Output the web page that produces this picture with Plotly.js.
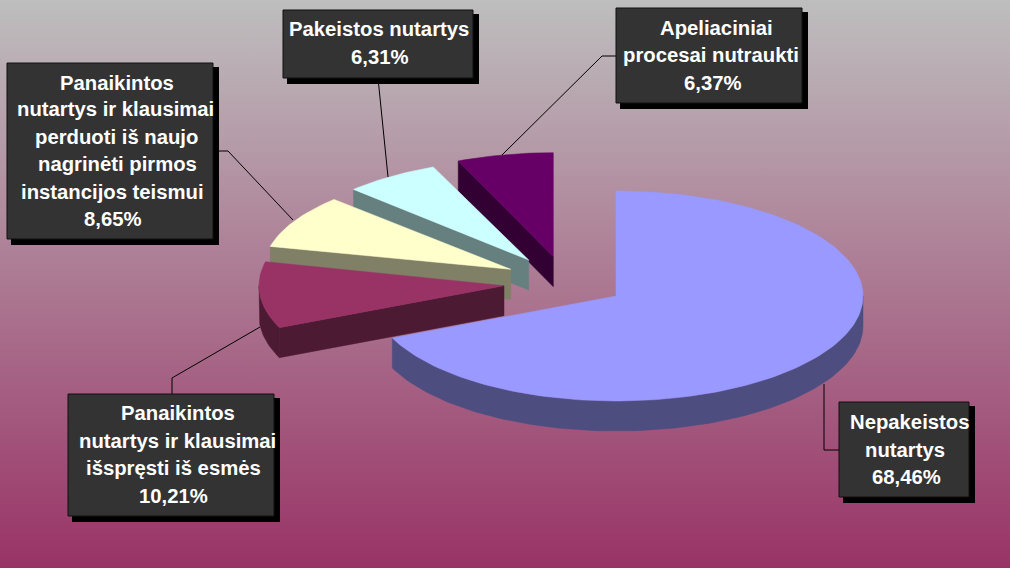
<!DOCTYPE html>
<html>
<head>
<meta charset="utf-8">
<script src="https://cdn.plot.ly/plotly-3.0.1.min.js"></script>
<style>
html,body{margin:0;padding:0;width:1010px;height:568px;overflow:hidden;background:linear-gradient(180deg,#BEBEBE 0%,#993366 100%);}
#chart{width:1010px;height:568px;}
</style>
</head>
<body>
<div id="chart"></div>
<script>
// ---- data ----
const categories = [
  "Nepakeistos nutartys",
  "Panaikintos nutartys ir klausimai išspręsti iš esmės",
  "Panaikintos nutartys ir klausimai perduoti iš naujo nagrinėti pirmos instancijos teismui",
  "Pakeistos nutartys",
  "Apeliaciniai procesai nutraukti"
];
const values = [68.46, 10.21, 8.65, 6.31, 6.37];
const topColors = ["#9999FF", "#993366", "#FFFFCC", "#CCFFFF", "#660066"];
const sideColors = ["#4D4D80", "#4D1A33", "#808066", "#668080", "#330033"];

// ---- fake-3D projection of each exploded slice ----
const apexX = [616, 504, 510.7, 528.7, 553.3];
const apexY = [296, 285.7, 269.3, 260, 256.7];
const radiusXRight = [247, 245, 247, 245, 244];
const radiusXLeft = [244, 245, 247, 245, 244];
const radiusY = [105, 105, 100, 101, 104];
const depth = 30;

const labelBoxes = [
  {slice:0, x0:839, x1:969, y0:402, y1:497,
   lines:[["Nepakeistos",909.7,422],["nutartys",905,450],["68,46%",906.7,477]],
   leader:[[839,450],[824,450],[824,384]]},
  {slice:1, x0:68, x1:274, y0:394, y1:516,
   lines:[["Panaikintos",177.8,413],["nutartys ir klausimai",177,441],["išspręsti iš esmės",173,468],["10,21%",173.5,496]],
   leader:[[172,394],[172,378],[260,327]]},
  {slice:2, x0:7, x1:213, y0:63, y1:239,
   lines:[["Panaikintos",117,82.7],["nutartys ir klausimai",115.5,109],["perduoti iš naujo",116,137],["nagrinėti pirmos",117,164],["instancijos teismui",112.5,192],["8,65%",113,218.5]],
   leader:[[213,151],[228,151],[293,220]]},
  {slice:3, x0:283, x1:473, y0:10, y1:78,
   lines:[["Pakeistos nutartys",379,29],["6,31%",380,57]],
   leader:[[378,78],[388,177]]},
  {slice:4, x0:616, x1:802, y0:8, y1:103,
   lines:[["Apeliaciniai",716,28],["procesai nutraukti",710.5,55],["6,37%",712.5,83]],
   leader:[[616,56],[602,56],[502,155]]}
];

// ---- build polygons from the values ----
const total = values.reduce((a,b)=>a+b,0);
const ends = [];
values.reduce((acc,v,i)=>{ends[i]=acc+v/total*360;return ends[i];},0);
const starts = ends.map((e,i)=>i?ends[i-1]:0);

function arcPoints(i,from,to){
  const n = Math.max(12, Math.round((to-from)/1.5));
  const px=[],py=[];
  for(let k=0;k<=n;k++){
    const deg=from+(to-from)*k/n;
    const t=deg*Math.PI/180;
    const s=Math.sin(t);
    px.push(apexX[i]+(s>=0?radiusXRight[i]:radiusXLeft[i])*s);
    py.push(apexY[i]-radiusY[i]*Math.cos(t));
  }
  return {px,py};
}
function poly(x,y,color,name){
  return {type:"scatter",mode:"lines",x:x.concat([x[0]]),y:y.concat([y[0]]),fill:"toself",fillcolor:color,
    line:{width:0.5,color:color},hoverinfo:"name",name:name,showlegend:false};
}
const traces=[];
for(let i=values.length-1;i>=0;i--){
  const {px,py}=arcPoints(i,starts[i],ends[i]);
  // outer wall: only the part of the rim that faces the viewer
  const wFrom=Math.max(starts[i],90), wTo=Math.min(ends[i],270);
  if(wTo>wFrom){
    const w=arcPoints(i,wFrom,wTo);
    traces.push(poly(w.px.concat(w.px.slice().reverse()),w.py.concat(w.py.map(v=>v+depth).reverse()),sideColors[i],categories[i]));
  }
  // radial wall on the start edge
  if(i>0){
    traces.push(poly([px[0],apexX[i],apexX[i],px[0]],[py[0],apexY[i],apexY[i]+depth,py[0]+depth],sideColors[i],categories[i]));
  }
  // top face
  traces.push(poly([apexX[i]].concat(px),[apexY[i]].concat(py),topColors[i],categories[i]));
}

const shapes=[],annotations=[];
labelBoxes.forEach(b=>{
  const path="M"+b.leader.map(p=>p[0]+","+p[1]).join("L");
  shapes.push({type:"path",xref:"x",yref:"y",path:path,line:{color:"#000000",width:1},layer:"above"});
});
labelBoxes.forEach(b=>{
  shapes.push({type:"rect",xref:"x",yref:"y",x0:b.x0+4,x1:b.x1+6,y0:b.y0+4,y1:b.y1+6,fillcolor:"#000000",line:{width:0},layer:"above"});
  shapes.push({type:"rect",xref:"x",yref:"y",x0:b.x0,x1:b.x1,y0:b.y0,y1:b.y1,fillcolor:"#333333",line:{color:"#111111",width:1},layer:"above"});
  b.lines.forEach(l=>{
    annotations.push({xref:"x",yref:"y",x:l[1],y:l[2],text:l[0],showarrow:false,xanchor:"center",yanchor:"middle",
      font:{family:"Liberation Sans, Arial, sans-serif",size:20.3,color:"#FFFFFF",weight:700}});
  });
});

const layout={
  width:1010,height:568,margin:{l:0,r:0,t:0,b:0},
  paper_bgcolor:"rgba(0,0,0,0)",plot_bgcolor:"rgba(0,0,0,0)",showlegend:false,
  xaxis:{range:[0,1010],visible:false,fixedrange:true},
  yaxis:{range:[568,0],visible:false,fixedrange:true},
  shapes:shapes,annotations:annotations
};
Plotly.newPlot("chart",traces,layout,{displayModeBar:false,staticPlot:true});
</script>
</body>
</html>
